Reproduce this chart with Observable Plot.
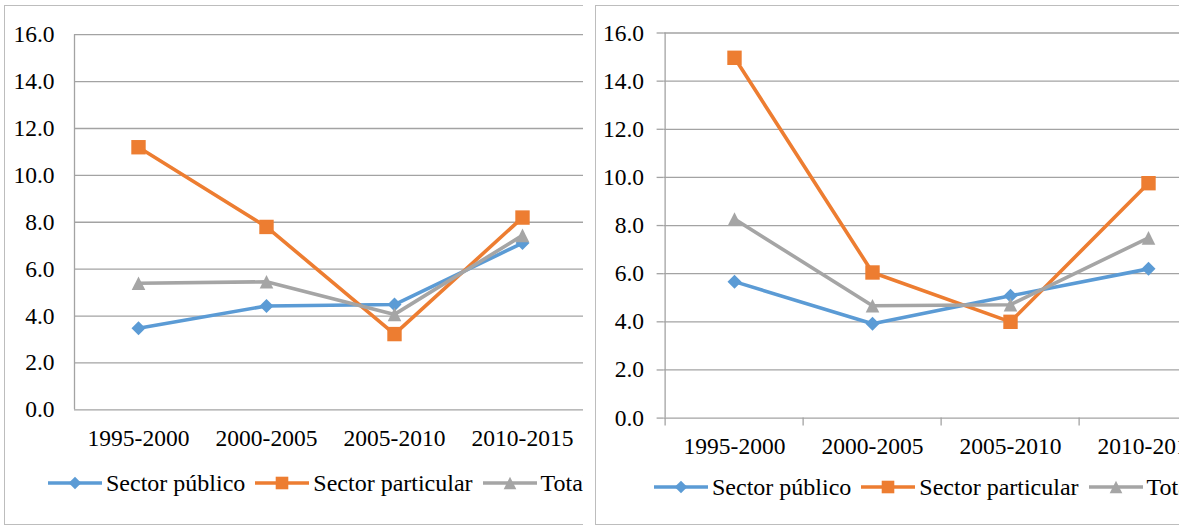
<!DOCTYPE html>
<html>
<head>
<meta charset="utf-8">
<script src="https://cdn.jsdelivr.net/npm/d3@7"></script>
<script src="https://cdn.jsdelivr.net/npm/@observablehq/plot@0.6"></script>
<style>
  html, body { margin: 0; padding: 0; background: #fff; }
  #page { position: relative; width: 1179px; height: 526px; overflow: hidden; background: #fff;
          font-family: "Liberation Serif", "Times New Roman", Times, "DejaVu Serif", serif; color: #000; }
  .clip { position: absolute; top: 0; overflow: hidden; height: 526px; }
  .plotwrap { position: absolute; top: 0; }
  .plotwrap svg { max-width: none !important; display: block; }
  .legend { position: absolute; display: flex; align-items: center; white-space: nowrap;
            font-size: 24px; height: 30px; }
  .legend .item { display: flex; align-items: center; margin-right: 10px; }
  .legend svg { display: block; margin-right: 4px; }
  .border { position: absolute; pointer-events: none; box-sizing: border-box; }
</style>
</head>
<body>
<div id="page">
  <div class="clip" id="clipA" style="left:0;width:583px;">
    <div class="plotwrap" id="plotA" style="left:0;width:600px;"></div>
    <div class="legend" id="legendA" style="left:48px;top:468px;"></div>
  </div>
  <div class="border" style="left:4px;top:5px;width:590px;height:520px;border:1px solid #bdbdbd;border-right:none;clip-path:inset(0 11px 0 0);"></div>
  <div class="clip" id="clipB" style="left:590px;width:589px;">
    <div class="plotwrap" id="plotB" style="left:0;width:640px;"></div>
    <div class="legend" id="legendB" style="left:64px;top:472px;"></div>
  </div>
  <div class="border" style="left:595px;top:5px;width:600px;height:520px;border:1px solid #bdbdbd;border-right:none;"></div>
</div>
<script>
// ---- data ----
const categorias = ["1995-2000", "2000-2005", "2005-2010", "2010-2015"];
const series = ["Sector público", "Sector particular", "Total"];
const yTicks = [0, 2, 4, 6, 8, 10, 12, 14, 16];

// left chart
const publicoA = [3.48, 4.43, 4.49, 7.11];
const particularA = [11.2, 7.8, 3.23, 8.2];
const totalA = [5.4, 5.46, 4.07, 7.44];

// right chart
const publicoB = [5.67, 3.92, 5.08, 6.2];
const particularB = [14.97, 6.05, 4.0, 9.76];
const totalB = [8.27, 4.67, 4.71, 7.49];

// ---- styles ----
const fuente = '"Liberation Serif", "Times New Roman", Times, "DejaVu Serif", serif';
const colores = ["#5b9bd5", "#ed7d31", "#a5a5a5"];
const rad = s => Math.sqrt(s / Math.PI);
const diamond = {draw(c, s) { const r = rad(s); c.moveTo(0, -r); c.lineTo(r, 0); c.lineTo(0, r); c.lineTo(-r, 0); c.closePath(); }};
const square = {draw(c, s) { const r = rad(s); c.rect(-r, -r, 2 * r, 2 * r); }};
const triangle = {draw(c, s) { const r = rad(s); c.moveTo(0, -r); c.lineTo(r, r); c.lineTo(-r, r); c.closePath(); }};
const simbolos = [diamond, square, triangle];
const radios = [7, 7.2, 6.8];
const gridColor = "#a3a3a3";

function table(vals) {
  const rows = [];
  vals.forEach((arr, si) => arr.forEach((v, i) => rows.push({serie: series[si], periodo: categorias[i], valor: v})));
  return rows;
}

function chart(vals, cfg) {
  const rows = table(vals);
  const bw = (cfg.width - cfg.marginLeft - cfg.marginRight) / categorias.length;
  const marks = [
    Plot.gridY(yTicks, {stroke: gridColor, strokeOpacity: 1, strokeWidth: 1.3})
  ];
  if (cfg.ticks) {
    marks.push(Plot.axisY(yTicks, {tickSize: 7, tickPadding: cfg.yPad, stroke: gridColor, strokeWidth: 1.3, tickFormat: d3.format(".1f")}));
    marks.push(Plot.axisX({tickSize: 8, tickFormat: () => "", dx: -bw / 2, stroke: gridColor, strokeWidth: 1.3}));
  } else {
    marks.push(Plot.axisY(yTicks, {tickSize: 0, tickPadding: cfg.yPad, tickFormat: d3.format(".1f")}));
  }
  marks.push(Plot.axisX({tickSize: 0, tickPadding: cfg.xPad}));
  marks.push(Plot.ruleX([categorias[0]], {dx: -bw / 2, stroke: gridColor, strokeWidth: 1.3}));
  series.forEach((s, si) => {
    const d = rows.filter(r => r.serie === s);
    marks.push(Plot.line(d, {x: "periodo", y: "valor", stroke: colores[si], strokeWidth: 3.6}));
    marks.push(Plot.dot(d, {x: "periodo", y: "valor", symbol: simbolos[si], r: radios[si], fill: colores[si], stroke: "none"}));
  });
  return Plot.plot({
    width: cfg.width,
    height: cfg.height,
    marginLeft: cfg.marginLeft,
    marginRight: cfg.marginRight,
    marginTop: cfg.marginTop,
    marginBottom: cfg.marginBottom,
    style: {fontFamily: fuente, fontSize: "23.5px", color: "#000", background: "transparent", overflow: "visible"},
    x: {type: "band", domain: categorias, padding: 0, label: null},
    y: {domain: [0, 16], label: null},
    marks
  });
}

document.getElementById("plotA").appendChild(chart([publicoA, particularA, totalA], {
  width: 600, height: 460, marginLeft: 74, marginRight: 14, marginTop: 34.2, marginBottom: 50.7,
  ticks: false, yPad: 20, xPad: 20
}));

document.getElementById("plotB").appendChild(chart([publicoB, particularB, totalB], {
  width: 640, height: 470, marginLeft: 73.6, marginRight: 11.4, marginTop: 32.5, marginBottom: 52.4,
  ticks: true, yPad: 13, xPad: 19
}));

function legend(el) {
  series.forEach((s, si) => {
    const item = d3.select(el).append("div").attr("class", "item");
    const svg = item.append("svg").attr("width", 54).attr("height", 20);
    svg.append("line").attr("x1", 0).attr("x2", 54).attr("y1", 10).attr("y2", 10)
      .attr("stroke", colores[si]).attr("stroke-width", 3.6);
    const sym = d3.symbol(simbolos[si], Math.PI * 6.3 * 6.3);
    svg.append("path").attr("d", sym()).attr("transform", "translate(27,10)").attr("fill", colores[si]);
    item.append("span").text(s);
  });
}
legend(document.getElementById("legendA"));
legend(document.getElementById("legendB"));
</script>
</body>
</html>
